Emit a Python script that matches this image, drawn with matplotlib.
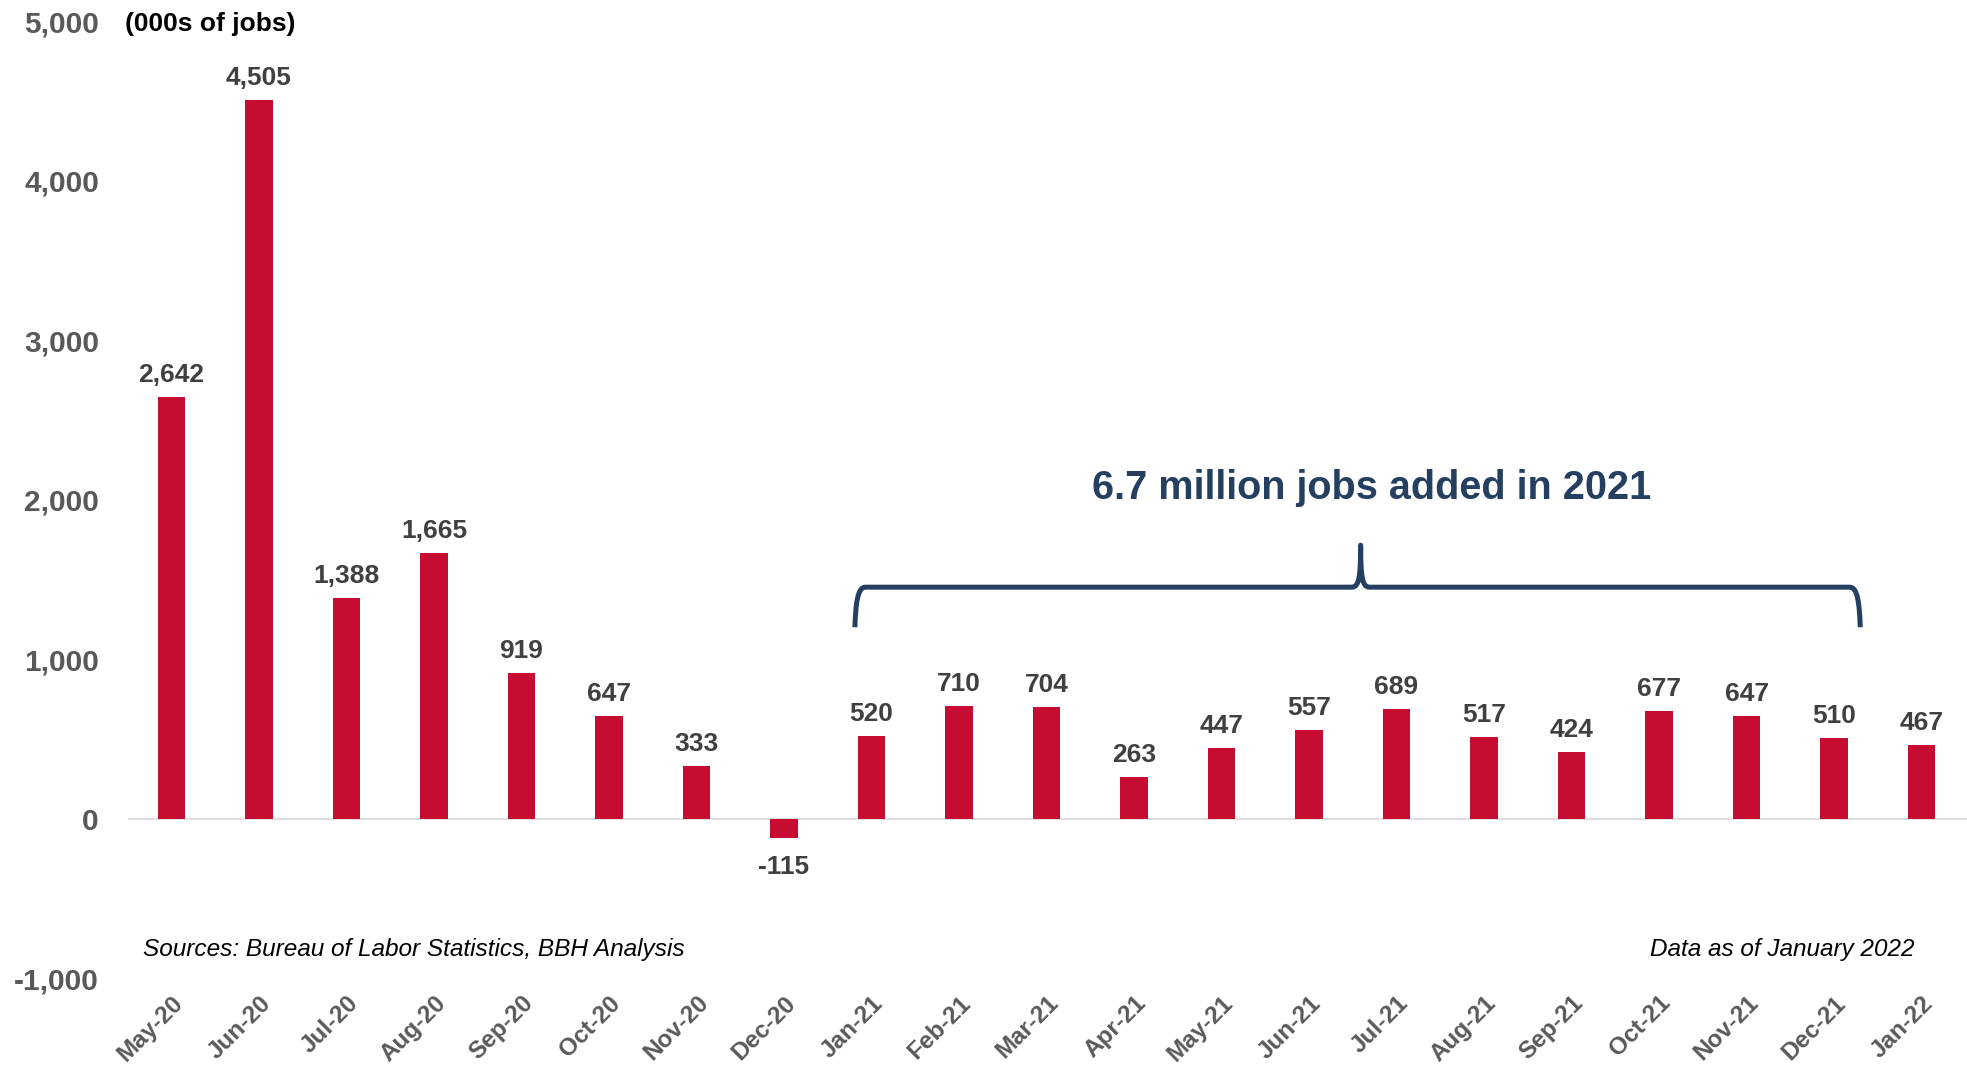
import matplotlib
matplotlib.use("Agg")
import matplotlib.pyplot as plt
from matplotlib.path import Path
from matplotlib.patches import PathPatch
from matplotlib.ticker import FuncFormatter

plt.rcParams['font.family'] = ['Liberation Sans', 'DejaVu Sans']

# Monthly change in nonfarm payrolls (thousands)
months = ["May-20", "Jun-20", "Jul-20", "Aug-20", "Sep-20", "Oct-20", "Nov-20",
          "Dec-20", "Jan-21", "Feb-21", "Mar-21", "Apr-21", "May-21", "Jun-21",
          "Jul-21", "Aug-21", "Sep-21", "Oct-21", "Nov-21", "Dec-21", "Jan-22"]
jobs_added = [2642, 4505, 1388, 1665, 919, 647, 333, -115, 520, 710, 704, 263,
              447, 557, 689, 517, 424, 677, 647, 510, 467]
y_ticks = [-1000, 0, 1000, 2000, 3000, 4000, 5000]

BAR_RED = "#C60C30"
NAVY = "#243F60"
GREY_TICK = "#595959"
GREY_LABEL = "#404040"

fig = plt.figure(figsize=(19.67, 10.67), dpi=100)
ax = fig.add_axes([0.0651, 0.0825, 0.9349, 0.8978])

x = list(range(len(months)))
ax.bar(x, jobs_added, width=0.31, color=BAR_RED, zorder=3)
ax.axhline(0, color="#D9D9D9", lw=1.2, zorder=2)

ax.set_xlim(-0.497, 20.52)
ax.set_ylim(-1000, 5000)
for s in ax.spines.values():
    s.set_visible(False)

ax.set_yticks(y_ticks)
ax.yaxis.set_major_formatter(FuncFormatter(lambda v, p: f"{int(v):,}"))
ax.tick_params(axis="y", length=0, pad=21, labelsize=21.5, labelcolor=GREY_TICK)
for t in ax.get_yticklabels():
    t.set_fontweight("bold")

ax.set_xticks(x)
ax.set_xticklabels(months)
ax.tick_params(axis="x", length=0, pad=9, labelsize=17.5, labelcolor=GREY_TICK)
for t in ax.get_xticklabels():
    t.set_fontweight("bold")
    t.set_rotation(45)
    t.set_rotation_mode("anchor")
    t.set_ha("right")
    t.set_va("top")

# value labels above (or below) each bar
for xi, v in zip(x, jobs_added):
    if v >= 0:
        ax.annotate(f"{v:,}", (xi, v), xytext=(0, 10.8), textcoords="offset points",
                    ha="center", va="baseline", fontsize=19, fontweight="bold",
                    color=GREY_LABEL)
    else:
        ax.annotate(f"{v:,}", (xi, v), xytext=(0, -26.5), textcoords="offset points",
                    ha="center", va="baseline", fontsize=19, fontweight="bold",
                    color=GREY_LABEL)

# curly bracket over the 2021 months
bx0, bx1, bxc = 7.81, 19.30, 13.59
by_end, by_bar, by_tip = 1203, 1454, 1717
dx = 0.12   # horizontal extent of the rounded corners
dxt = 0.10  # half width of the central cusp
verts = [
    (bx0, by_end),
    (bx0 + 0.01, by_end + 150), (bx0 + 0.03, by_bar), (bx0 + dx, by_bar),
    (bxc - dxt, by_bar),
    (bxc - 0.02, by_bar), (bxc, by_bar + 60), (bxc, by_tip),
    (bxc, by_bar + 60), (bxc + 0.02, by_bar), (bxc + dxt, by_bar),
    (bx1 - dx, by_bar),
    (bx1 - 0.03, by_bar), (bx1 - 0.01, by_end + 150), (bx1, by_end),
]
codes = [Path.MOVETO,
         Path.CURVE4, Path.CURVE4, Path.CURVE4,
         Path.LINETO,
         Path.CURVE4, Path.CURVE4, Path.CURVE4,
         Path.CURVE4, Path.CURVE4, Path.CURVE4,
         Path.LINETO,
         Path.CURVE4, Path.CURVE4, Path.CURVE4]
ax.add_patch(PathPatch(Path(verts, codes), fill=False, edgecolor=NAVY, lw=3.6,
                       capstyle="butt", joinstyle="round", zorder=4))

ax.text(13.71, 2005, "6.7 million jobs added in 2021", ha="center", va="baseline",
        fontsize=28.5, fontweight="bold", color=NAVY)

fig.text(125 / 1967, 1 - 24 / 1067, "(000s of jobs)", ha="left", va="center",
         fontsize=19, fontweight="bold", color="black")
fig.text(143 / 1967, 1 - 956 / 1067, "Sources: Bureau of Labor Statistics, BBH Analysis",
         ha="left", va="baseline", fontsize=17.6, style="italic", color="black")
fig.text(1914 / 1967, 1 - 956 / 1067, "Data as of January 2022",
         ha="right", va="baseline", fontsize=17.5, style="italic", color="black")

fig.savefig("out.png", dpi=100, facecolor="white")
